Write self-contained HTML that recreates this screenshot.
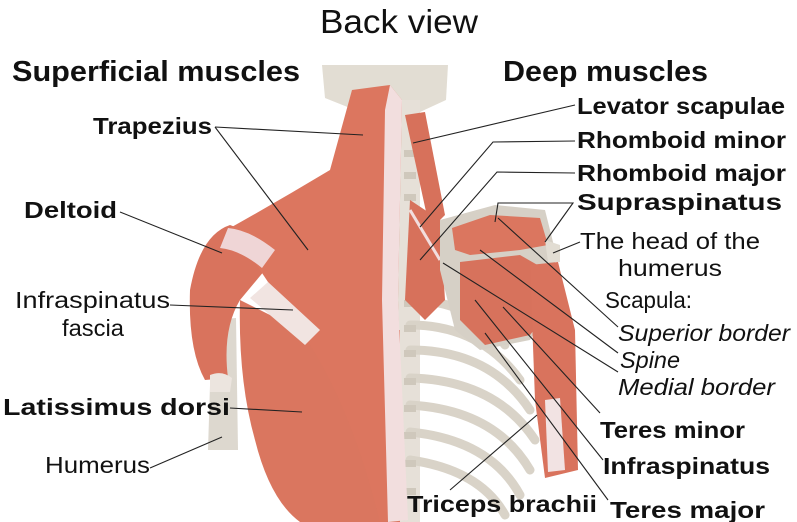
<!DOCTYPE html>
<html><head><meta charset="utf-8"><style>
html,body{margin:0;padding:0;background:#fff;}
svg{display:block;}
text{font-family:"Liberation Sans","DejaVu Sans",sans-serif;fill:#111;}
.b{font-weight:bold;font-size:23px;}
.n{font-size:23px;}
.i{font-size:23px;font-style:italic;}
.h{font-weight:bold;font-size:29px;}
line,polyline{stroke:#222;stroke-width:1.1;fill:none;}
</style></head><body>
<svg width="797" height="522" viewBox="0 0 797 522" xmlns="http://www.w3.org/2000/svg">
<path d="M322 65 L448 65 L446 100 L420 112 L360 112 L325 98 Z" fill="#e2ddd3"/>
<rect x="398" y="100" width="22" height="422" fill="#e6e0d8"/>
<g fill="none" stroke="#d9d3c8" stroke-width="9" stroke-linecap="round">
<path d="M410 300 Q470 300 505 345"/>
<path d="M410 325 Q480 325 520 380"/>
<path d="M410 350 Q490 350 530 410"/>
<path d="M410 378 Q495 380 535 440"/>
<path d="M410 405 Q495 410 530 470"/>
<path d="M410 432 Q490 440 520 495"/>
<path d="M410 460 Q480 470 505 515"/>
</g>
<g fill="#cfc8bc"><rect x="404" y="150" width="12" height="7"/><rect x="404" y="172" width="12" height="7"/><rect x="404" y="194" width="12" height="7"/><rect x="404" y="300" width="12" height="7"/><rect x="404" y="325" width="12" height="7"/><rect x="404" y="350" width="12" height="7"/><rect x="404" y="378" width="12" height="7"/><rect x="404" y="405" width="12" height="7"/><rect x="404" y="432" width="12" height="7"/><rect x="404" y="460" width="12" height="7"/><rect x="404" y="488" width="12" height="7"/></g>
<path d="M212 320 L236 318 L238 450 L208 450 Z" fill="#ddd8cf"/>
<path d="M230 225 Q200 235 190 290 Q188 350 205 380 L228 378 Q222 330 240 300 L265 270 L270 240 Z" fill="#d9735d"/>
<path d="M240 300 Q238 380 255 440 Q270 500 300 522 L400 522 L400 330 L300 330 Z" fill="#da765f"/>
<path d="M352 90 L390 85 L402 100 L398 300 L405 520 L380 522 Q350 400 300 330 L260 270 L230 228 Q280 200 330 170 Z" fill="#dc765f"/>
<path d="M390 85 L402 100 L398 300 L408 520 L388 522 L382 300 L385 110 Z" fill="#f2dede"/>
<path d="M228 228 Q250 230 275 250 L262 268 Q240 250 220 248 Z" fill="#efd5d6"/>
<path d="M250 298 L268 282 L320 330 L305 345 Z" fill="#f1e4e1"/>
<path d="M210 375 Q222 370 232 378 L230 392 L210 392 Z" fill="#ece5df"/>
<path d="M405 115 L425 112 L445 215 L430 230 Z" fill="#d7715b"/>
<path d="M410 200 L440 220 L445 300 L425 320 L405 300 Z" fill="#d7715b"/>
<path d="M410 210 L440 260" stroke="#f2dede" stroke-width="3"/>
<path d="M440 220 L495 205 L545 210 L555 250 L555 300 L530 340 L480 350 L455 330 L440 270 Z" fill="#d6d0c6"/>
<path d="M452 228 L490 215 L540 218 L548 245 L520 250 L470 255 L455 250 Z" fill="#db765f"/>
<path d="M460 262 L520 255 L555 275 L550 310 L530 335 L485 345 L460 320 Z" fill="#d7725c"/>
<path d="M545 240 L560 245 L560 262 L548 262 Z" fill="#e2ddd3"/>
<path d="M530 265 L558 262 L575 330 L578 470 L545 478 L535 400 Z" fill="#d9735d"/>
<path d="M545 400 L560 398 L565 470 L548 472 Z" fill="#f2e3e3"/>
<text x="320" y="33" style="font-size:33px" textLength="158" lengthAdjust="spacingAndGlyphs">Back view</text>
<text x="12" y="81" class="h" textLength="288" lengthAdjust="spacingAndGlyphs">Superficial muscles</text>
<text x="503" y="81" class="h" textLength="205" lengthAdjust="spacingAndGlyphs">Deep muscles</text>
<text x="93" y="134" class="b" textLength="119" lengthAdjust="spacingAndGlyphs">Trapezius</text>
<text x="24" y="218" class="b" textLength="93" lengthAdjust="spacingAndGlyphs">Deltoid</text>
<text x="15" y="308" class="n" textLength="155" lengthAdjust="spacingAndGlyphs">Infraspinatus</text>
<text x="62" y="336" class="n" textLength="62" lengthAdjust="spacingAndGlyphs">fascia</text>
<text x="3" y="415" class="b" textLength="227" lengthAdjust="spacingAndGlyphs">Latissimus dorsi</text>
<text x="45" y="473" class="n" textLength="105" lengthAdjust="spacingAndGlyphs">Humerus</text>
<text x="577" y="114" class="b" textLength="208" lengthAdjust="spacingAndGlyphs">Levator scapulae</text>
<text x="577" y="148" class="b" textLength="209" lengthAdjust="spacingAndGlyphs">Rhomboid minor</text>
<text x="577" y="181" class="b" textLength="209" lengthAdjust="spacingAndGlyphs">Rhomboid major</text>
<text x="577" y="210" class="b" textLength="205" lengthAdjust="spacingAndGlyphs">Supraspinatus</text>
<text x="580" y="249" class="n" textLength="180" lengthAdjust="spacingAndGlyphs">The head of the</text>
<text x="618" y="276" class="n" textLength="104" lengthAdjust="spacingAndGlyphs">humerus</text>
<text x="605" y="308" class="n" textLength="87" lengthAdjust="spacingAndGlyphs">Scapula:</text>
<text x="618" y="341" class="i" textLength="172" lengthAdjust="spacingAndGlyphs">Superior border</text>
<text x="620" y="368" class="i" textLength="60" lengthAdjust="spacingAndGlyphs">Spine</text>
<text x="618" y="395" class="i" textLength="157" lengthAdjust="spacingAndGlyphs">Medial border</text>
<text x="600" y="438" class="b" textLength="145" lengthAdjust="spacingAndGlyphs">Teres minor</text>
<text x="603" y="474" class="b" textLength="167" lengthAdjust="spacingAndGlyphs">Infraspinatus</text>
<text x="407" y="512" class="b" textLength="190" lengthAdjust="spacingAndGlyphs">Triceps brachii</text>
<text x="610" y="518" class="b" textLength="155" lengthAdjust="spacingAndGlyphs">Teres major</text>
<line x1="215" y1="127" x2="363" y2="135"/>
<line x1="215" y1="127" x2="308" y2="250"/>
<line x1="120" y1="212" x2="222" y2="253"/>
<line x1="170" y1="305" x2="293" y2="310"/>
<line x1="230" y1="408" x2="302" y2="412"/>
<line x1="150" y1="468" x2="222" y2="437"/>
<line x1="575" y1="105" x2="413" y2="143"/>
<polyline points="575,141 493,142 420,227"/>
<polyline points="575,173 497,172 420,260"/>
<polyline points="495,222 498,203 573,203 545,242"/>
<line x1="580" y1="242" x2="553" y2="253"/>
<line x1="498" y1="218" x2="618" y2="327"/>
<line x1="480" y1="250" x2="618" y2="353"/>
<line x1="443" y1="263" x2="618" y2="372"/>
<line x1="503" y1="307" x2="600" y2="413"/>
<line x1="475" y1="300" x2="603" y2="460"/>
<line x1="485" y1="333" x2="608" y2="500"/>
<line x1="537" y1="415" x2="450" y2="490"/>
</svg>
</body></html>
